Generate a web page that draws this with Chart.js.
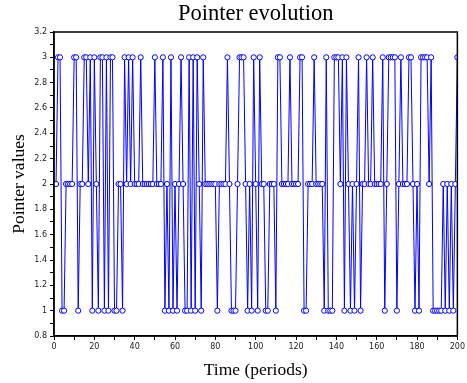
<!DOCTYPE html>
<html><head><meta charset="utf-8">
<script src="https://cdn.jsdelivr.net/npm/chart.js@4/dist/chart.umd.min.js"></script>
<style>html,body{margin:0;padding:0;background:#fff}canvas{display:block}</style>
</head><body>
<canvas id="c" width="467" height="383"></canvas>
<script>
const titleText = "Pointer evolution";
const xTitle = "Time (periods)";
const yTitle = "Pointer values";
const pointerValues = [
2,3,3,1,1,2,2,2,2,3, 3,1,2,2,3,3,2,3,1,3,
2,1,3,3,1,3,1,3,3,1, 1,2,2,1,3,2,3,2,3,2,
2,2,3,2,2,2,2,2,2,3, 2,2,2,3,1,2,1,3,1,2,
1,2,3,2,1,1,3,1,3,1, 3,2,1,3,2,2,2,2,2,2,
1,2,2,2,2,3,2,1,1,1, 2,3,3,3,2,1,2,1,3,2,
1,3,2,2,1,1,2,2,2,1, 3,3,2,2,2,2,3,2,2,2,
2,3,3,1,1,2,2,2,3,2, 2,2,2,1,3,1,1,1,3,3,
3,2,3,1,3,2,1,2,1,2, 3,1,2,2,3,2,2,3,2,2,
2,2,3,1,2,3,3,3,3,1, 2,3,2,2,2,3,3,2,1,2,
1,3,3,3,3,2,3,1,1,1, 1,1,2,1,2,1,2,1,2,3
];
const firstPeriod = 1;
const xTickLabels = [0,20,40,60,80,100,120,140,160,180,200];
const yTickLabels = [0.8,1,1.2,1.4,1.6,1.8,2,2.2,2.4,2.6,2.8,3,3.2];

const points = pointerValues.map((v,i)=>({x:i+firstPeriod,y:v}));

const frame = {
  id:'frame',
  afterDatasetsDraw(chart){
    const {ctx,chartArea:a}=chart;
    ctx.save();
    ctx.strokeStyle='#000';ctx.lineWidth=1.5;
    ctx.strokeRect(a.left,a.top,a.right-a.left,a.bottom-a.top);
    ctx.fillStyle='#000';
    ctx.font='22.5px "Liberation Serif"';
    ctx.textAlign='center';ctx.textBaseline='middle';
    ctx.fillText(titleText,(a.left+a.right)/2,14);
    ctx.restore();
  }
};

new Chart(document.getElementById('c'),{
  type:'line',
  data:{datasets:[{
    data:points,
    borderColor:'#0000ff',borderWidth:1,
    pointRadius:2.6,pointBorderColor:'#0000ff',pointBackgroundColor:'#ffffff',pointBorderWidth:1,
    tension:0
  }]},
  options:{
    responsive:false,animation:false,devicePixelRatio:1,
    layout:{padding:{left:0,right:9,top:32,bottom:0}},
    plugins:{
      legend:{display:false},tooltip:{enabled:false},title:{display:false}
    },
    scales:{
      x:{type:'linear',min:0,max:200,
        afterFit(s){s.height=47;},
        grid:{drawOnChartArea:false,drawTicks:true,tickLength:4,color:'#000',tickColor:'#000'},
        border:{display:true,color:'#000',width:1.5},
        ticks:{stepSize:10,autoSkip:false,maxRotation:0,color:'#222',padding:2,
          font:{family:'DejaVu Sans',size:8},
          callback:(v)=>xTickLabels.includes(v)?String(v):''},
        title:{display:true,text:xTitle,color:'#000',font:{family:'Liberation Serif',size:17.5},padding:{top:6,bottom:2}}
      },
      y:{type:'linear',min:0.8,max:3.2,
        afterFit(s){s.width=54;},
        grid:{drawOnChartArea:false,drawTicks:true,tickLength:4,color:'#000',tickColor:'#000'},
        border:{display:true,color:'#000',width:1.5},
        ticks:{stepSize:0.1,autoSkip:false,color:'#222',padding:3,
          font:{family:'DejaVu Sans',size:8},
          callback:(v)=>{const r=Math.round(v*10)/10;return yTickLabels.some(t=>Math.abs(t-r)<1e-6)?String(r):'';}},
        title:{display:true,text:yTitle,color:'#000',font:{family:'Liberation Serif',size:17.5},padding:{top:9,bottom:0}}
      }
    }
  },
  plugins:[frame]
});
</script>
</body></html>
